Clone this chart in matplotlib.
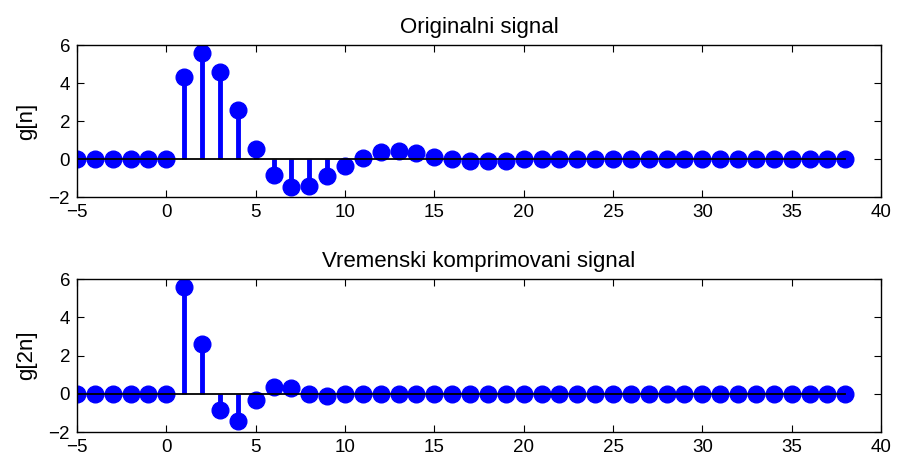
import numpy as np
import matplotlib
matplotlib.use("Agg")
import matplotlib.pyplot as plt

plt.rcParams['font.family'] = ['Liberation Sans', 'DejaVu Sans']

# sample indices
n = list(range(-5, 39))

# original signal g[n]
g = [0, 0, 0, 0, 0, 0,
     4.3, 5.6, 4.6, 2.6, 0.55, -0.85, -1.5, -1.4, -0.9, -0.35,
     0.05, 0.35, 0.4, 0.3, 0.1, 0.0, -0.1, -0.12, -0.1,
     0, 0, 0, 0, 0, 0, 0, 0, 0, 0,
     0, 0, 0, 0, 0, 0, 0, 0, 0]

# time-compressed signal g[2n]
g2 = [0, 0, 0, 0, 0, 0,
      5.6, 2.6, -0.85, -1.4, -0.35, 0.35, 0.3, 0.0, -0.12,
      0, 0, 0, 0, 0, 0, 0, 0, 0, 0,
      0, 0, 0, 0, 0, 0, 0, 0, 0, 0,
      0, 0, 0, 0, 0, 0, 0, 0, 0]

titles = ['Originalni signal', 'Vremenski komprimovani signal']
ylabels = ['g[n]', 'g[2n]']
xticks = [-5, 0, 5, 10, 15, 20, 25, 30, 35, 40]
yticks = [-2, 0, 2, 4, 6]

fig = plt.figure(figsize=(8.97, 4.61), dpi=100)
ax1 = fig.add_axes([77 / 897, 1 - 197 / 461, 804 / 897, 152 / 461])
ax2 = fig.add_axes([77 / 897, 1 - 432 / 461, 804 / 897, 153 / 461])

for ax, y, title, ylab in zip([ax1, ax2], [g, g2], titles, ylabels):
    markers, stems, base = ax.stem(n, y, basefmt='k-')
    plt.setp(markers, color='#0000ff', markersize=12)
    plt.setp(stems, color='#0000ff', linewidth=3.5)
    plt.setp(base, color='black', linewidth=1.3, xdata=[-5, 38])
    ax.set_xlim(-5, 40)
    ax.set_ylim(-2, 6)
    ax.set_xticks(xticks)
    ax.set_yticks(yticks)
    ax.tick_params(direction='in', top=True, right=True, labelsize=13.5, length=5, pad=5)
    ax.set_title(title, fontsize=16, pad=9)
    ax.set_ylabel(ylab, fontsize=16, labelpad=8)
    for sp in ax.spines.values():
        sp.set_linewidth(1.0)

fig.savefig('out.png', dpi=100)
